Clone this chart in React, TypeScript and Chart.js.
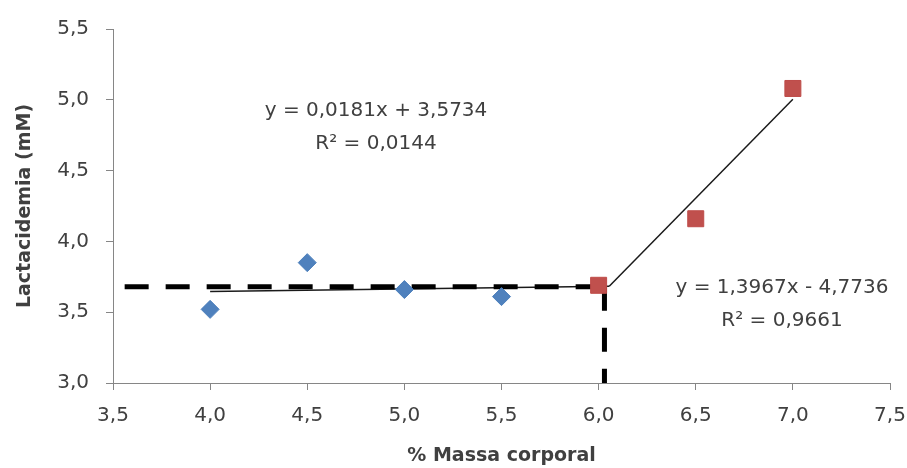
import React, { useEffect, useRef } from "react";
import { Chart, registerables } from "chart.js";

Chart.register(...registerables);

// ---- data ----
const massaAbaixo = [4.0, 4.5, 5.0, 5.5];
const lactAbaixo = [3.52, 3.85, 3.66, 3.61];
const massaAcima = [6.0, 6.5, 7.0];
const lactAcima = [3.69, 4.16, 5.08];

const trendAbaixo = { slope: 0.0181, intercept: 3.5734 };
const trendAcima = { slope: 1.3967, intercept: -4.7736 };
const eqAbaixo = ["y = 0,0181x + 3,5734", "R² = 0,0144"];
const eqAcima = ["y = 1,3967x - 4,7736", "R² = 0,9661"];

const limiarX = 6.03;
const limiarY = 3.68;
const guiaInicioX = 3.56;

const xTicks = [3.5, 4.0, 4.5, 5.0, 5.5, 6.0, 6.5, 7.0, 7.5];
const yTicks = [3.0, 3.5, 4.0, 4.5, 5.0, 5.5];

const xTitle = "% Massa corporal";
const yTitle = "Lactacidemia (mM)";

// ---- style ----
const FONT = "DejaVu Sans";
const TEXT = "#404040";
const AXIS = "#868686";

const fmt = (v: number | string) => Number(v).toFixed(1).replace(".", ",");

const equationPlugin = {
  id: "equations",
  afterDatasetsDraw(chart: any) {
    const { ctx, scales } = chart;
    const x = scales.x;
    const y = scales.y;
    ctx.save();
    ctx.font = `20px "${FONT}"`;
    ctx.fillStyle = TEXT;
    ctx.textAlign = "center";
    ctx.textBaseline = "middle";
    const draw = (lines: string[], xv: number, yv: number) => {
      const px = x.getPixelForValue(xv);
      const py = y.getPixelForValue(yv);
      lines.forEach((l, i) => ctx.fillText(l, px, py + i * 33));
    };
    draw(eqAbaixo, 4.854, 4.923);
    draw(eqAcima, 6.944, 3.669);
    ctx.restore();
  },
};

export default function App() {
  const ref = useRef<HTMLCanvasElement>(null);

  useEffect(() => {
    if (!ref.current) return;
    const xi =
      (trendAbaixo.intercept - trendAcima.intercept) /
      (trendAcima.slope - trendAbaixo.slope);
    const f = (t: { slope: number; intercept: number }, xv: number) =>
      t.slope * xv + t.intercept;

    const chart = new Chart(ref.current, {
      type: "scatter",
      data: {
        datasets: [
          {
            label: "abaixo",
            data: massaAbaixo.map((m, i) => ({ x: m, y: lactAbaixo[i] })),
            pointStyle: "rectRot",
            pointRadius: 9,
            backgroundColor: "#4F81BD",
            borderColor: "#4A7EBB",
            borderWidth: 1,
            order: 0,
          },
          {
            label: "acima",
            data: massaAcima.map((m, i) => ({ x: m, y: lactAcima[i] })),
            pointStyle: "rect",
            pointRadius: 11.3,
            backgroundColor: "#C0504D",
            borderColor: "#BE4B48",
            borderWidth: 1,
            order: 0,
          },
          {
            label: "guia-h",
            data: [
              { x: guiaInicioX, y: limiarY },
              { x: limiarX, y: limiarY },
            ],
            showLine: true,
            borderColor: "#000",
            borderWidth: 5,
            borderDash: [24, 17],
            pointRadius: 0,
            order: 1,
          },
          {
            label: "guia-v",
            data: [
              { x: limiarX, y: limiarY },
              { x: limiarX, y: yTicks[0] },
            ],
            showLine: true,
            borderColor: "#000",
            borderWidth: 5,
            borderDash: [24, 17],
            pointRadius: 0,
            order: 1,
          },
          {
            label: "tend-abaixo",
            data: [
              { x: massaAbaixo[0], y: f(trendAbaixo, massaAbaixo[0]) },
              { x: xi, y: f(trendAbaixo, xi) },
            ],
            showLine: true,
            borderColor: "#1a1a1a",
            borderWidth: 1.5,
            pointRadius: 0,
            order: 2,
          },
          {
            label: "tend-acima",
            data: [
              { x: xi, y: f(trendAcima, xi) },
              {
                x: massaAcima[massaAcima.length - 1],
                y: f(trendAcima, massaAcima[massaAcima.length - 1]),
              },
            ],
            showLine: true,
            borderColor: "#1a1a1a",
            borderWidth: 1.5,
            pointRadius: 0,
            order: 2,
          },
        ],
      },
      options: {
        animation: false,
        responsive: false,
        maintainAspectRatio: false,
        layout: { padding: { top: 28, right: 17, left: 0, bottom: 0 } },
        plugins: {
          legend: { display: false },
          tooltip: { enabled: false },
        },
        scales: {
          x: {
            type: "linear",
            min: xTicks[0],
            max: xTicks[xTicks.length - 1],
            ticks: {
              stepSize: xTicks[1] - xTicks[0],
              callback: (v: any) => fmt(v),
              font: { family: FONT, size: 20 },
              color: TEXT,
              padding: 14,
            },
            grid: {
              drawOnChartArea: false,
              drawTicks: true,
              tickLength: 7,
              color: AXIS,
            },
            border: { display: true, color: AXIS, width: 1 },
            title: {
              display: true,
              text: xTitle,
              font: { family: FONT, size: 19, weight: "bold" },
              color: TEXT,
              padding: { top: 0, bottom: 1 },
            },
            afterFit: (s: any) => {
              s.height = 85;
              s.paddingLeft = 0;
              s.paddingRight = 0;
            },
          },
          y: {
            type: "linear",
            min: yTicks[0],
            max: yTicks[yTicks.length - 1],
            ticks: {
              stepSize: yTicks[1] - yTicks[0],
              callback: (v: any) => fmt(v),
              font: { family: FONT, size: 20 },
              color: TEXT,
              padding: 17,
            },
            grid: {
              drawOnChartArea: false,
              drawTicks: true,
              tickLength: 7,
              color: AXIS,
            },
            border: { display: true, color: AXIS, width: 1 },
            title: {
              display: true,
              text: yTitle,
              font: { family: FONT, size: 19, weight: "bold" },
              color: TEXT,
              padding: { top: 14, bottom: 0 },
            },
            afterFit: (s: any) => {
              s.width = 113;
            },
          },
        },
      } as any,
      plugins: [equationPlugin],
    });
    return () => chart.destroy();
  }, []);

  return (
    <div
      style={{
        position: "fixed",
        left: 0,
        top: 0,
        width: 907,
        height: 468,
        background: "#fff",
      }}
    >
      <canvas
        ref={ref}
        width={907}
        height={468}
        style={{ display: "block", width: 907, height: 468 }}
      />
    </div>
  );
}
